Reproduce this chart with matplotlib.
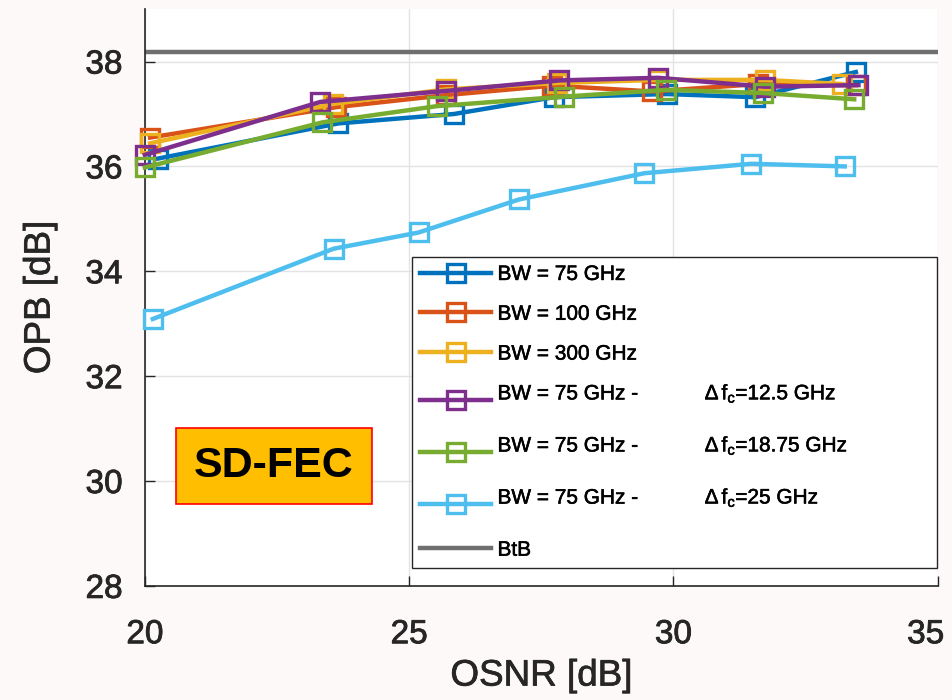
import matplotlib
matplotlib.use("Agg")
import matplotlib.pyplot as plt
import matplotlib.patheffects as pe
import matplotlib.transforms as mtransforms
from matplotlib.font_manager import FontProperties

plt.rcParams['font.family'] = ['Liberation Sans', 'DejaVu Sans']
plt.rcParams['mathtext.fontset'] = 'custom'
plt.rcParams['mathtext.rm'] = 'Liberation Sans'
plt.rcParams['mathtext.it'] = 'Liberation Sans'

# ---- data ----
osnr_bw75 = [20.25, 23.66, 25.85, 27.74, 29.87, 31.55, 33.45]
opb_bw75 = [36.15, 36.82, 37.00, 37.32, 37.38, 37.32, 37.80]

osnr_bw100 = [20.10, 23.62, 25.70, 27.71, 29.60, 31.60, 33.45]
opb_bw100 = [36.55, 37.13, 37.36, 37.54, 37.43, 37.57, 37.55]

osnr_bw300 = [20.10, 23.55, 25.70, 27.80, 29.70, 31.73, 33.19]
opb_bw300 = [36.44, 37.19, 37.47, 37.59, 37.65, 37.65, 37.57]

osnr_df125 = [20.00, 23.32, 25.70, 27.84, 29.71, 31.73, 33.50]
opb_df125 = [36.22, 37.23, 37.44, 37.64, 37.69, 37.52, 37.55]

osnr_df1875 = [20.00, 23.36, 25.53, 27.92, 29.86, 31.69, 33.42]
opb_df1875 = [35.98, 36.84, 37.15, 37.33, 37.46, 37.40, 37.28]

osnr_df25 = [20.15, 23.57, 25.18, 27.08, 29.45, 31.47, 33.24]
opb_df25 = [33.09, 34.43, 34.74, 35.37, 35.87, 36.05, 36.00]

btb_opb = 38.18

labels = ["BW = 75 GHz", "BW = 100 GHz", "BW = 300 GHz",
          "BW = 75 GHz -", "BW = 75 GHz -", "BW = 75 GHz -", "BtB"]
df_labels = [r"$\Delta\,\mathrm{f}_{\mathrm{c}}$=12.5 GHz",
             r"$\Delta\,\mathrm{f}_{\mathrm{c}}$=18.75 GHz",
             r"$\Delta\,\mathrm{f}_{\mathrm{c}}$=25 GHz"]
colors = ['#0072BD', '#D95319', '#EDB120', '#7E2F8E', '#77AC30', '#4DBEEE']

xticks = [20, 25, 30, 35]
yticks = [28, 30, 32, 34, 36, 38]

series = [(osnr_bw75, opb_bw75), (osnr_bw100, opb_bw100), (osnr_bw300, opb_bw300),
          (osnr_df125, opb_df125), (osnr_df1875, opb_df1875), (osnr_df25, opb_df25)]

TXT = '#262626'
def bold_fx(w=0.6, c=TXT):
    return [pe.withStroke(linewidth=w, foreground=c)]

fig = plt.figure(figsize=(9.53, 7.0), dpi=100, facecolor='#fdf9f8')
ax = fig.add_axes([0.152, 0.163, 0.832, 0.824])
ax.set_facecolor('white')

handles = []
for i, (xs, ys) in enumerate(series):
    h, = ax.plot(xs, ys, color=colors[i], lw=3.2, marker='s', ms=12.5,
                 mfc='none', mew=2.4, clip_on=False, zorder=3 + i * 0.1)
    handles.append(h)
hb = ax.axhline(btb_opb, color='#6f6f6f', lw=3.2, zorder=2)
handles.append(hb)

ax.set_xlim(20, 35)
ax.set_ylim(28, 39)
ax.set_xticks(xticks)
ax.set_yticks(yticks)
ax.tick_params(direction='in', length=7, width=1, labelsize=24, colors=TXT)
ax.tick_params(axis='x', pad=24)
ax.tick_params(axis='y', pad=16)
for t in ax.get_xticklabels() + ax.get_yticklabels():
    t.set_path_effects(bold_fx(0.6))
# keep the last x tick label inside the figure, as in the reference
last = ax.get_xticklabels()[-1]
last.set_transform(last.get_transform() +
                   mtransforms.ScaledTranslation(-12 / 100, 0, fig.dpi_scale_trans))
ax.grid(True, color='#e3e3e3', lw=1.0, zorder=0)
ax.set_axisbelow(True)
for s in ['top', 'right']:
    ax.spines[s].set_visible(False)
for s in ['left', 'bottom']:
    ax.spines[s].set_color(TXT)
    ax.spines[s].set_linewidth(1.2)

xl = ax.set_xlabel('OSNR [dB]', fontsize=26.5, color=TXT, labelpad=6)
yl = ax.set_ylabel('OPB [dB]', fontsize=26.5, color=TXT, labelpad=20)
xl.set_path_effects(bold_fx(0.5))
yl.set_path_effects(bold_fx(0.5))

leg_labels = [lab + ("\n" if 3 <= i <= 5 else "") for i, lab in enumerate(labels)]

leg = ax.legend(handles, leg_labels, loc='lower left',
                bbox_to_anchor=(0.337, 0.031, 0.662, 0.555), mode='expand',
                borderaxespad=0.0,
                fontsize=15, handlelength=3.4, handletextpad=0.3,
                labelspacing=1.0, borderpad=0.4, frameon=True, fancybox=False,
                edgecolor=TXT, framealpha=1.0)
leg.get_frame().set_linewidth(1.0)
leg.set_zorder(10)
for i, t in enumerate(leg.get_texts()):
    t.set_color('black')
    t.set_path_effects(bold_fx(0.4, 'black'))
    if 3 <= i <= 5:
        t.set_linespacing(0.55)

# Δf_c column of legend, on the same baseline as the legend text
fig.canvas.draw()
renderer = fig.canvas.get_renderer()
inv = ax.transAxes.inverted()
fp = FontProperties(family=['Liberation Sans'], size=15)
_, lp_h, lp_d = renderer.get_text_width_height_descent("lp", fp, ismath=False)
texts = leg.get_texts()
for j, t in enumerate(texts[3:6]):
    bb = t.get_window_extent(renderer)
    base_px = bb.y1 - (lp_h - lp_d)
    _, ybase = inv.transform([bb.x0, base_px])
    tt = ax.text(0.706, ybase, df_labels[j], transform=ax.transAxes, fontsize=15,
                 ha='left', va='baseline', color='black', zorder=11)
    tt.set_path_effects(bold_fx(0.4, 'black'))

ax.text(0.163, 0.208, 'SD-FEC', transform=ax.transAxes, fontsize=31,
        fontweight='bold', ha='center', va='center', color='black',
        bbox=dict(boxstyle='square,pad=0.42', facecolor='#FFBF00',
                  edgecolor='#ff0000', linewidth=1.2), zorder=12)

fig.savefig('out.png', dpi=100, facecolor=fig.get_facecolor())
